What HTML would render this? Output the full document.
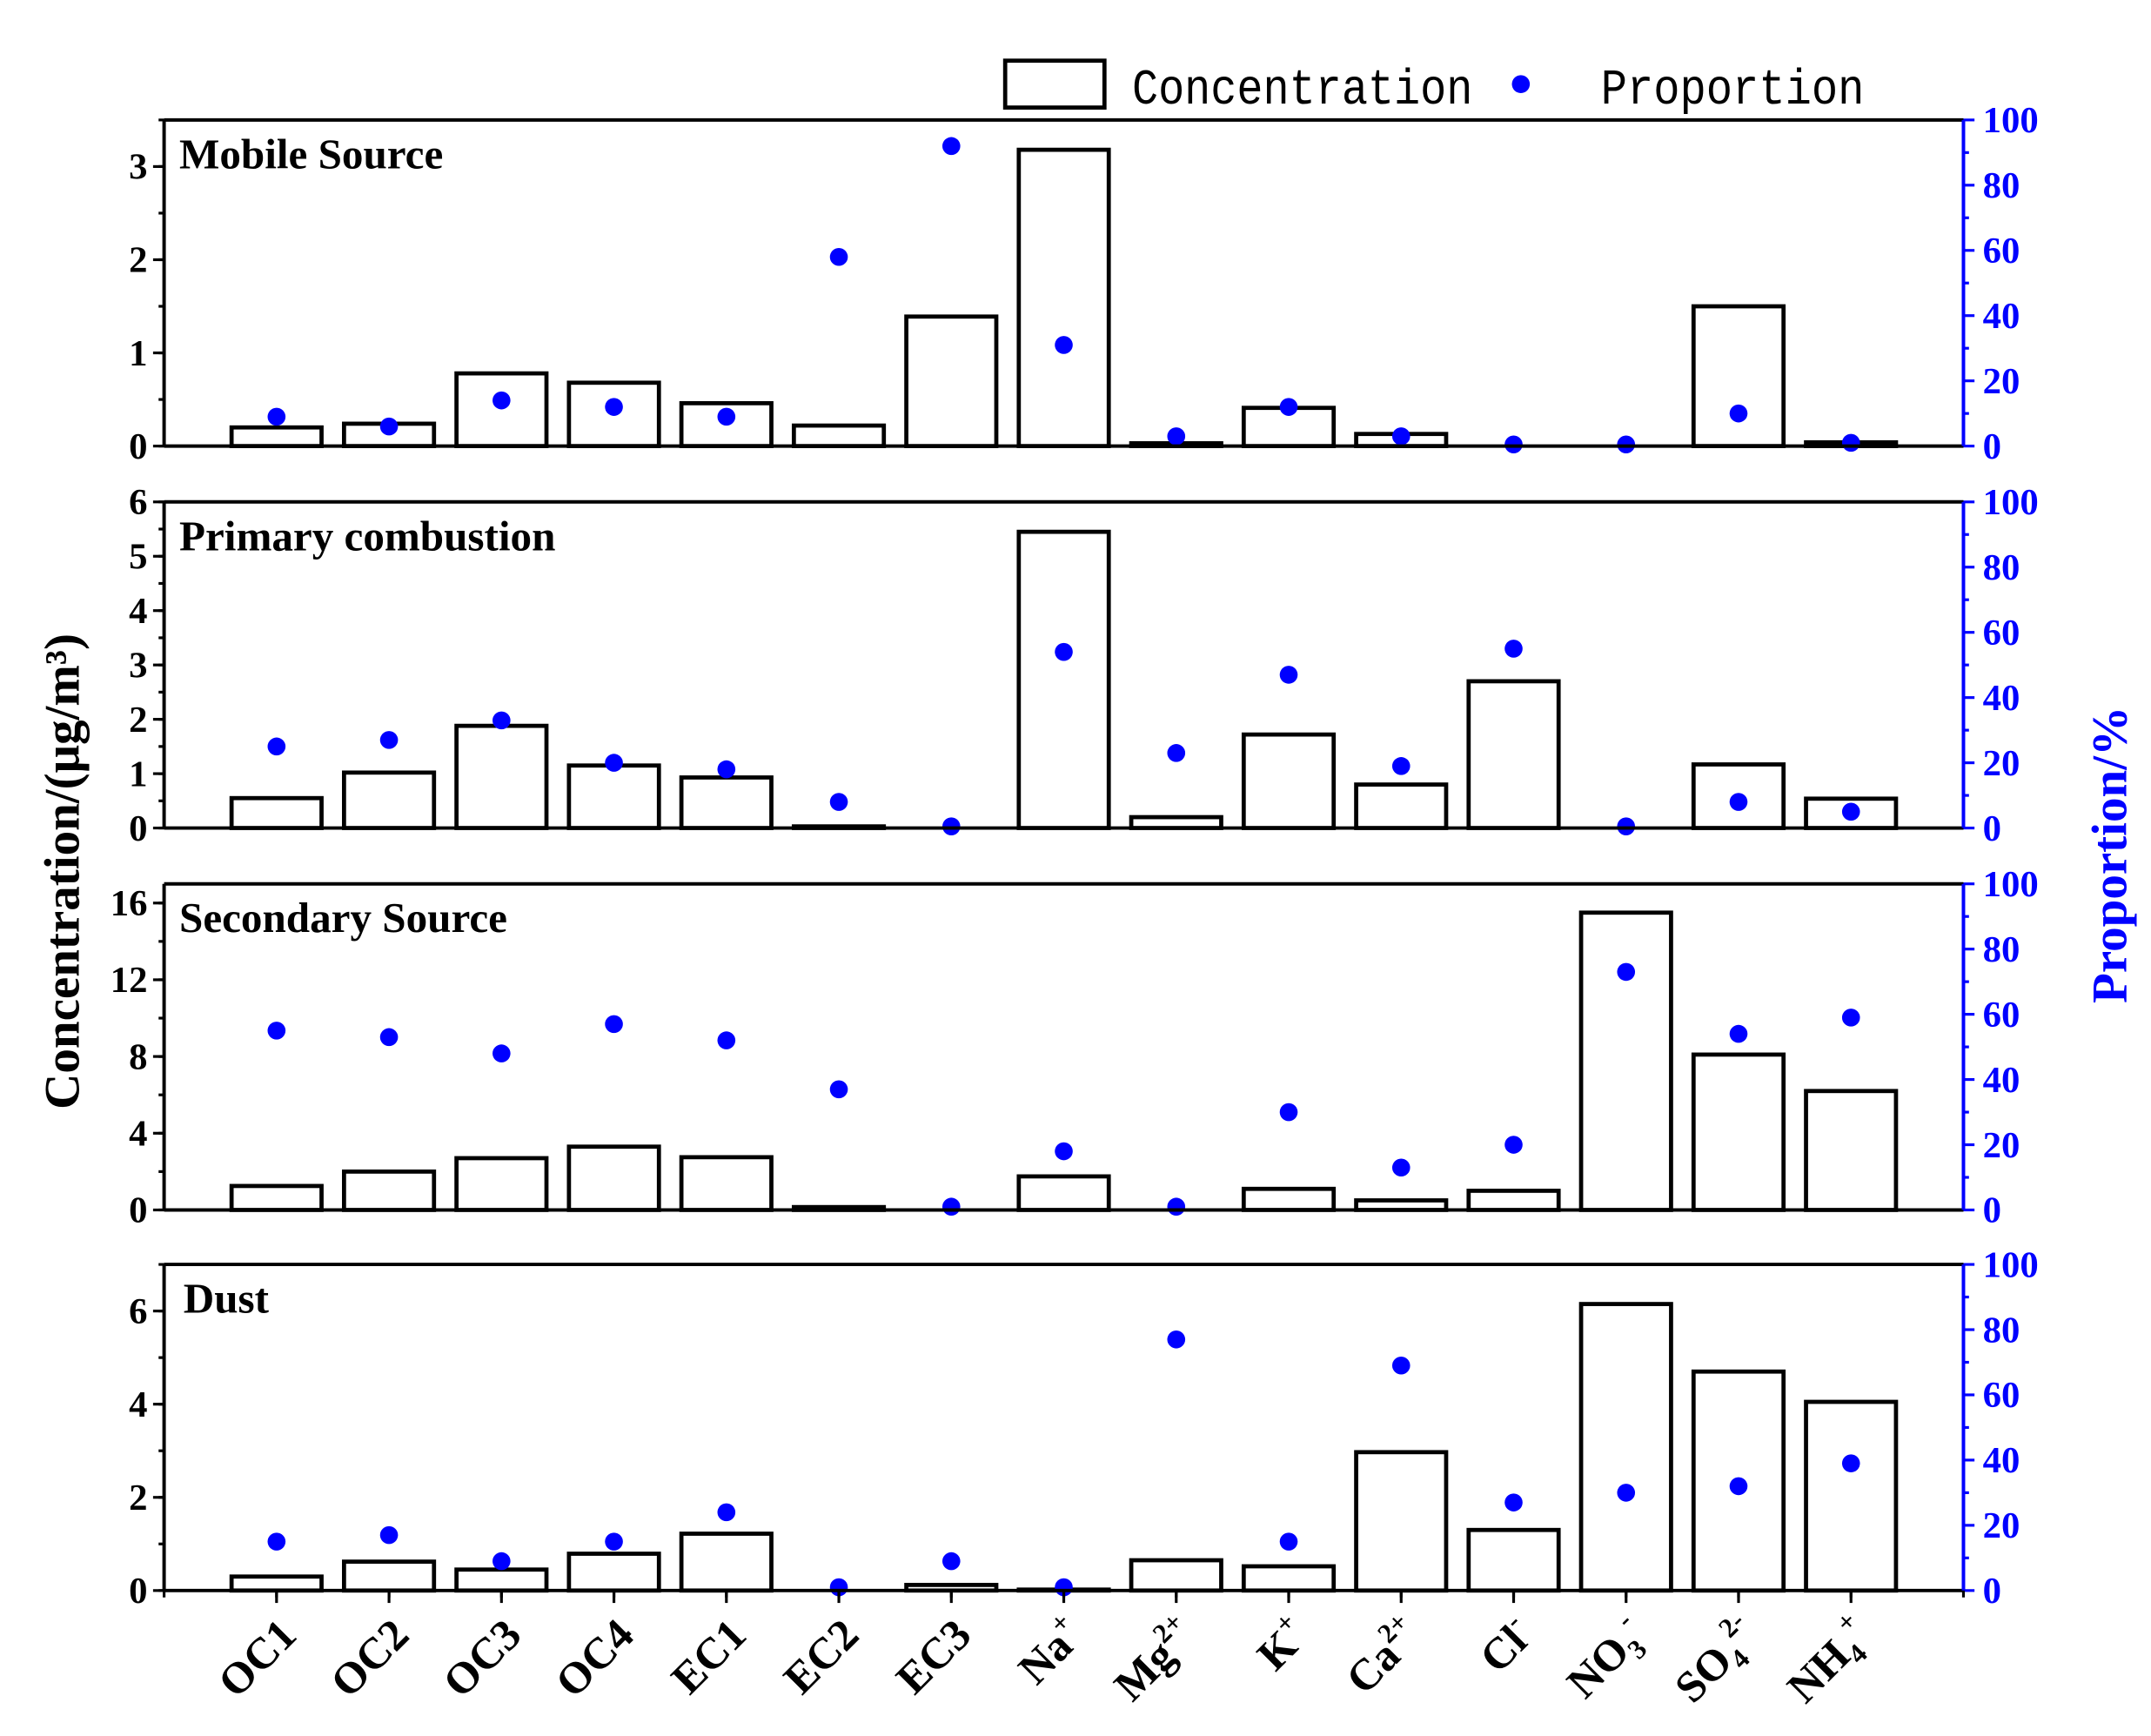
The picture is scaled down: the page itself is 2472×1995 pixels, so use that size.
<!DOCTYPE html>
<html><head><meta charset="utf-8"><style>
html,body{margin:0;padding:0;background:#fff}
svg{display:block}
text{font-family:"Liberation Serif",serif;font-weight:bold}
</style></head><body>
<svg id="chart" width="2472" height="1995" viewBox="0 0 1560 1259" xmlns="http://www.w3.org/2000/svg">
<g id="legend">
<rect x="729" y="44" width="72" height="34" fill="#fff" stroke="#000" stroke-width="3"/>
<text x="821" y="75" font-size="36" textLength="247" lengthAdjust="spacingAndGlyphs" style="font-family:'Liberation Mono',monospace;font-weight:normal">Concentration</text>
<circle cx="1103" cy="61" r="6.5" fill="#0000ff"/>
<text x="1161" y="75" font-size="36" textLength="191" lengthAdjust="spacingAndGlyphs" style="font-family:'Liberation Mono',monospace;font-weight:normal">Proportion</text>
</g>
<text transform="translate(57,632) rotate(-90)" text-anchor="middle" font-size="36">Concentration/(μg/m³)</text>
<text transform="translate(1542,620) rotate(-90)" text-anchor="middle" font-size="36" fill="#0000ff">Proportion/%</text>
<g id="panels"></g>
</svg>
<script>
const categories = ["OC1","OC2","OC3","OC4","EC1","EC2","EC3","Na+","Mg2+","K+","Ca2+","Cl-","NO3-","SO42-","NH4+"];
const labelBase = ["OC1","OC2","OC3","OC4","EC1","EC2","EC3","Na","Mg","K","Ca","Cl","NO","SO","NH"];
const labelSub = ["","","","","","","","","","","","","3","4","4"];
const labelSup = ["","","","","","","","+","2+","+","2+","-","-","2-","+"];
const panelTitles = ["Mobile Source","Primary combustion","Secondary Source","Dust"];
const concMobile = [0.2,0.24,0.78,0.68,0.46,0.22,1.39,3.18,0.03,0.41,0.13,0,0,1.5,0.04];
const propMobile = [9,6,14,12,9,58,92,31,3,12,3,0.5,0.5,10,1];
const concPrimary = [0.55,1.02,1.88,1.15,0.93,0.03,0,5.45,0.2,1.72,0.8,2.7,0,1.17,0.54];
const propPrimary = [25,27,33,20,18,8,0.5,54,23,47,19,55,0.5,8,5];
const concSecondary = [1.25,2.0,2.7,3.3,2.75,0.15,0,1.75,0,1.1,0.5,1.0,15.5,8.1,6.2];
const propSecondary = [55,53,48,57,52,37,1,18,1,30,13,20,73,54,59];
const concDust = [0.3,0.62,0.45,0.79,1.22,0,0.12,0.02,0.65,0.52,2.97,1.3,6.15,4.7,4.05];
const propDust = [15,17,9,15,24,1,9,1,77,15,69,27,30,32,39];
const leftMax = [3.5,6,17,7];
const leftTicks = [[0,1,2,3],[0,1,2,3,4,5,6],[0,4,8,12,16],[0,2,4,6]];
const leftMinorStep = [0.5,0.5,2,1];
const rightTicks = [0,20,40,60,80,100];
const concs = [concMobile,concPrimary,concSecondary,concDust];
const props = [propMobile,propPrimary,propSecondary,propDust];

const NS="http://www.w3.org/2000/svg";
const root=document.getElementById('panels');
const X0=119,X1=1424,slot=(X1-X0)/16;
const tops=[87,364,641,917], H=236.5;
function xPos(i){return X0+(i+1)*slot;}
function mk(tag,attrs,parent){const e=document.createElementNS(NS,tag);for(const k in attrs)e.setAttribute(k,attrs[k]);(parent||root).appendChild(e);return e;}

for(let p=0;p<4;p++){
  const top=tops[p],bot=top+H;
  const yL=v=>bot-v/leftMax[p]*H;
  const yR=v=>bot-v/100*H;
  const g=mk('g',{});
  
  
  concs[p].forEach((v,i)=>{
    const y=yL(v),cx=xPos(i),w=slot*0.8;
    const r=mk('rect',{x:cx-w/2,y:y,width:w,height:Math.max(bot-y,0),fill:'#fff',stroke:'#000','stroke-width':3},g);
    
    
  });
  props[p].forEach((v,i)=>{
    const c=mk('circle',{cx:xPos(i),cy:yR(v),r:6.5,fill:'#0000ff'},g);
    
    
  });
  mk('line',{x1:X0,y1:top,x2:X1,y2:top,stroke:'#000','stroke-width':2.5},g);
  mk('line',{x1:X0,y1:bot,x2:X1,y2:bot,stroke:'#000','stroke-width':2.5},g);
  mk('line',{x1:X0,y1:top,x2:X0,y2:bot,stroke:'#000','stroke-width':2.5},g);
  mk('line',{x1:X1,y1:top,x2:X1,y2:bot,stroke:'#0000ff','stroke-width':2.5},g);
  for(let v=0;v<=leftMax[p]+1e-9;v+=leftMinorStep[p]){
    mk('line',{x1:X0-4,y1:yL(v),x2:X0,y2:yL(v),stroke:'#000','stroke-width':2},g);
  }
  leftTicks[p].forEach(v=>{
    mk('line',{x1:X0-8,y1:yL(v),x2:X0,y2:yL(v),stroke:'#000','stroke-width':2},g);
    const t=mk('text',{x:X0-12,y:yL(v)+9,'text-anchor':'end','font-size':27},g);t.textContent=v;
    
    
  });
  for(let v=0;v<=100;v+=10){
    mk('line',{x1:X1,y1:yR(v),x2:X1+(v%20===0?8:4),y2:yR(v),stroke:'#0000ff','stroke-width':2},g);
  }
  rightTicks.forEach(v=>{
    const t=mk('text',{x:X1+14,y:yR(v)+9,'font-size':27,fill:'#0000ff'},g);t.textContent=v;
    
    
  });
  const tt=mk('text',{x:p==3?133:130,y:top+35,'font-size':31},g);tt.textContent=panelTitles[p];
  
  
  if(p==3){
    for(let i=0;i<=16;i++){
      const x=X0+i*slot;
      mk('line',{x1:x,y1:bot,x2:x,y2:bot+5,stroke:'#000','stroke-width':2},g);
    }
    categories.forEach((c,i)=>{
      const x=xPos(i);
      mk('line',{x1:x,y1:bot,x2:x,y2:bot+9,stroke:'#000','stroke-width':2},g);
      const t=mk('text',{transform:`translate(${x+16},${bot+34}) rotate(-45)`,'text-anchor':'end','font-size':32},g);
      
      
      const t1=document.createElementNS(NS,'tspan');t1.textContent=labelBase[i];t.appendChild(t1);
      if(labelSub[i]){const s=document.createElementNS(NS,'tspan');s.setAttribute('font-size','20');s.setAttribute('dy','7');s.textContent=labelSub[i];t.appendChild(s);}
      if(labelSup[i]){const s2=document.createElementNS(NS,'tspan');s2.setAttribute('font-size','20');s2.setAttribute('dy',labelSub[i]?'-22':'-14');s2.textContent=labelSup[i];t.appendChild(s2);}
    });
  }
}
</script>
</body></html>
